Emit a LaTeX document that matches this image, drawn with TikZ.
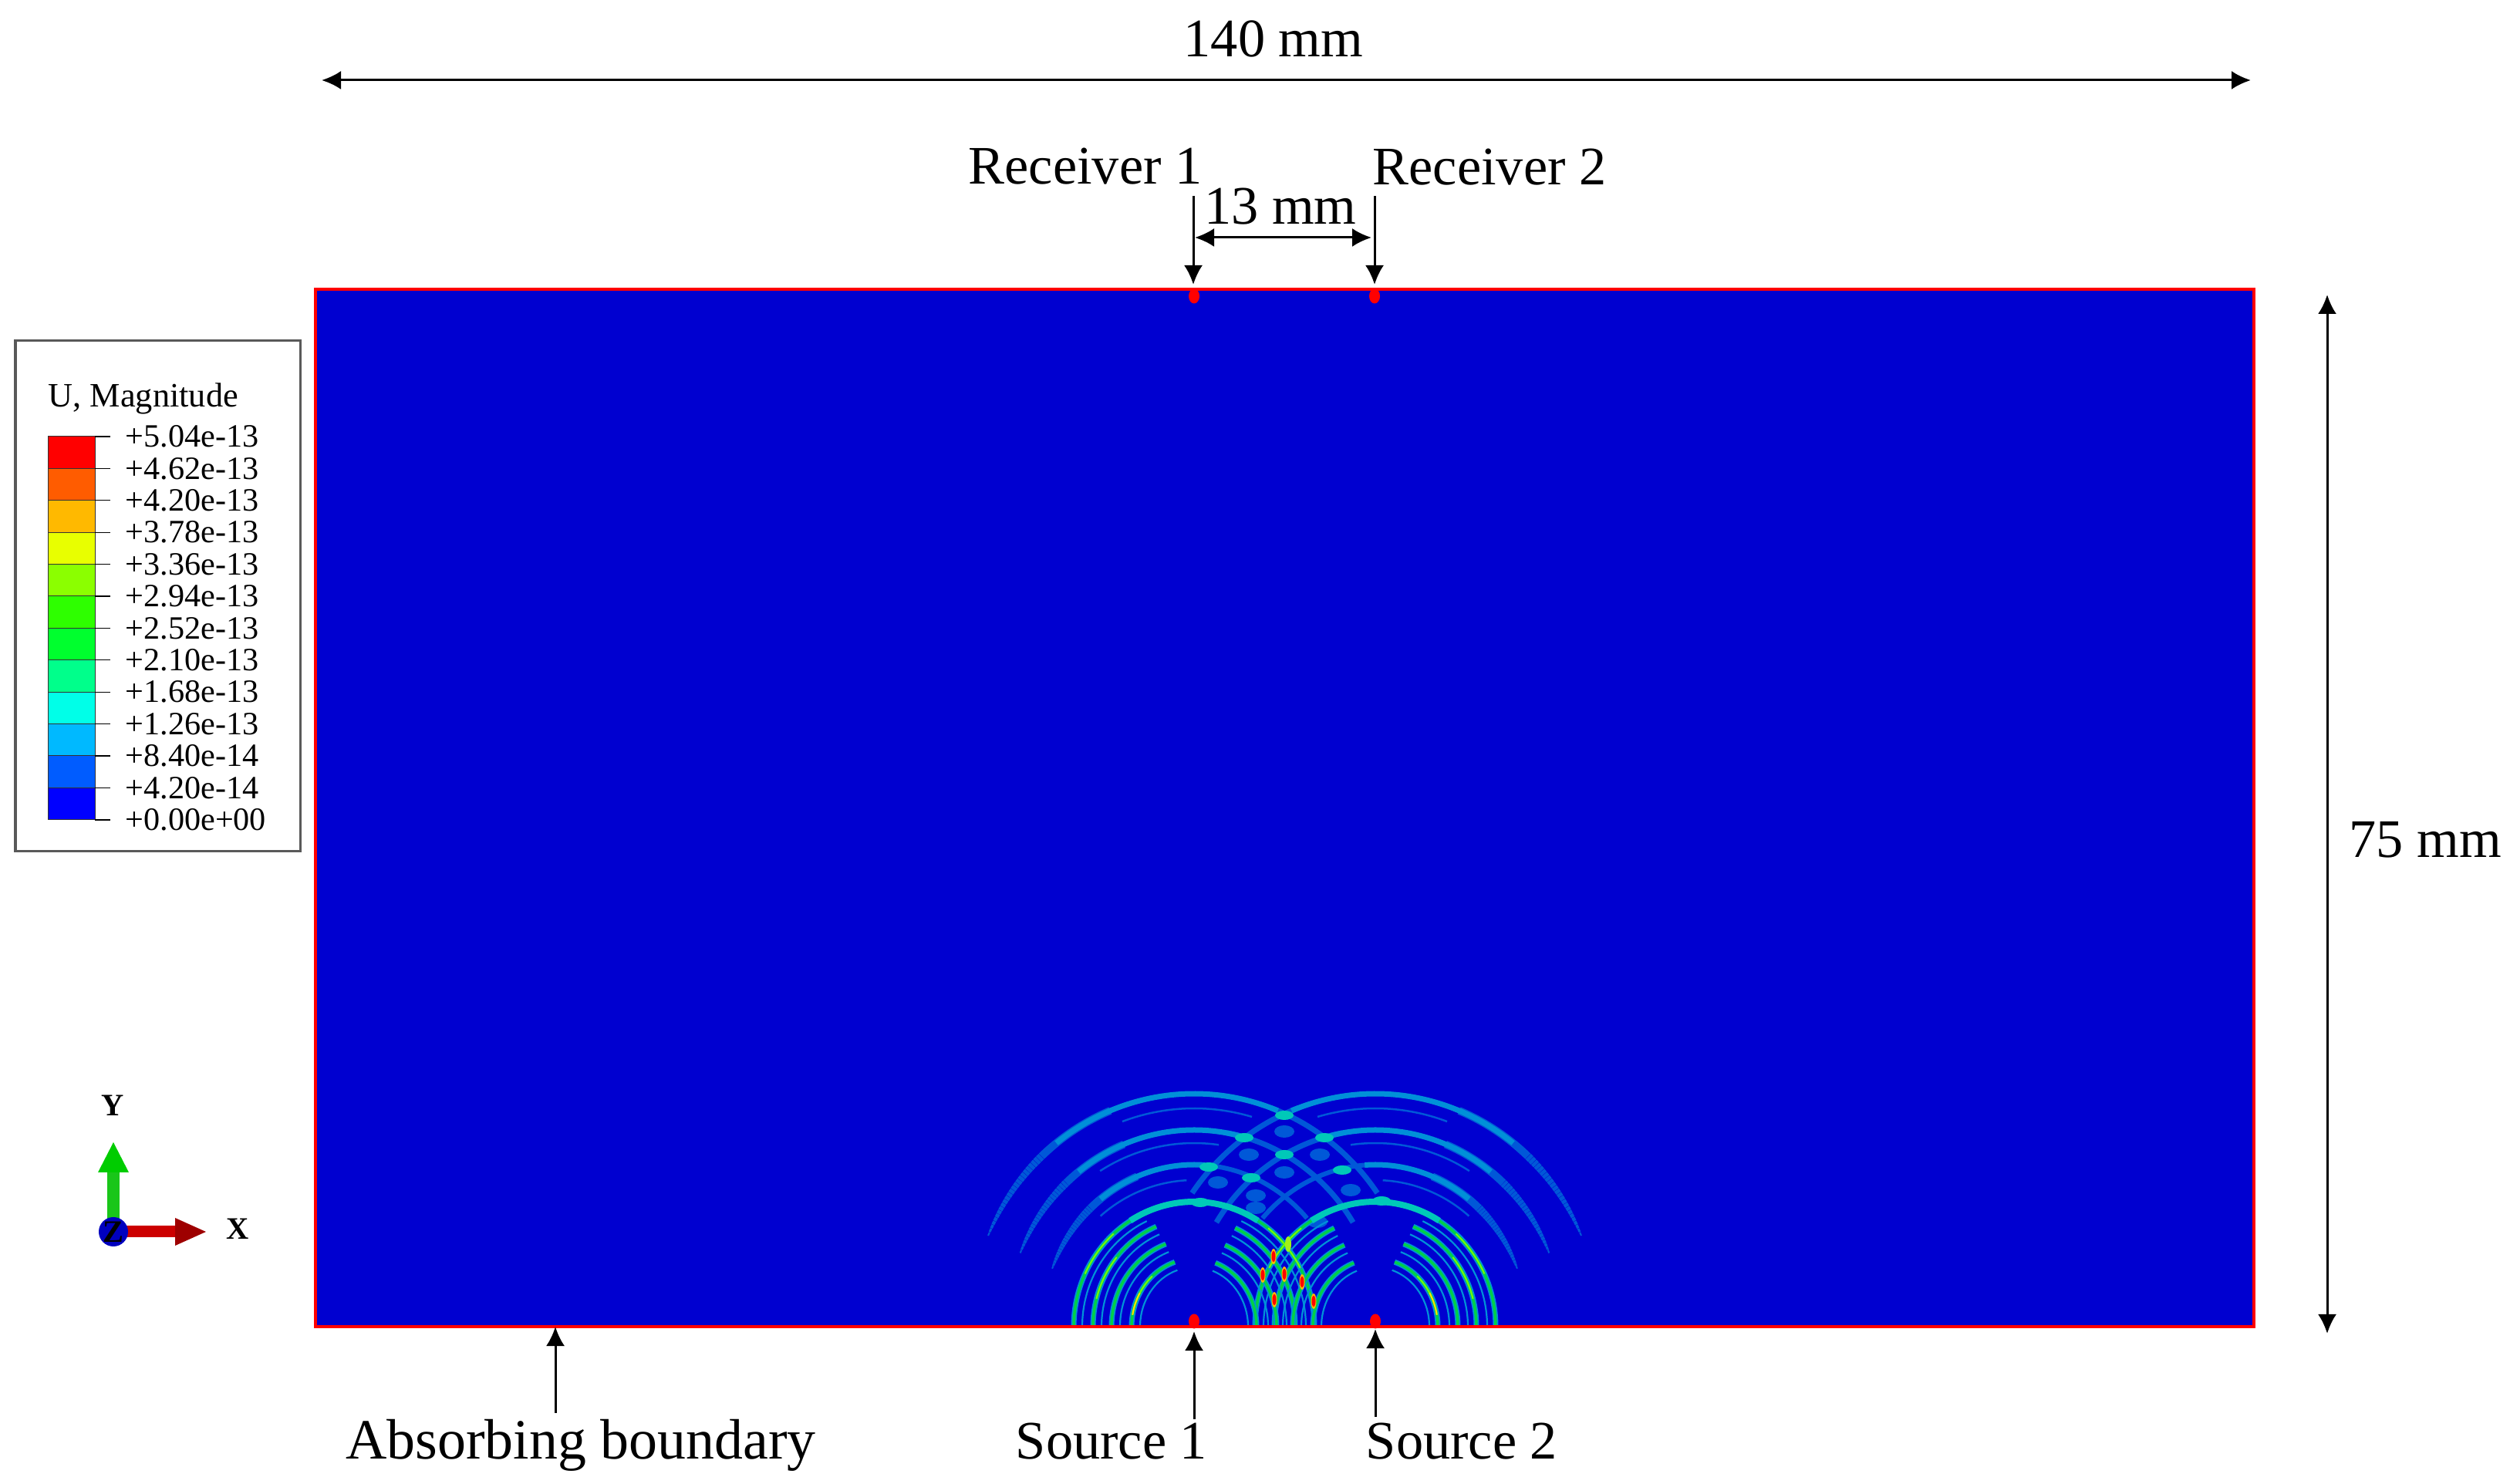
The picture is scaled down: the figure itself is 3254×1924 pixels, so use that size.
\documentclass[tikz,border=0pt]{standalone}
\usepackage{fontspec}
\setmainfont{Liberation Serif}
\usetikzlibrary{arrows.meta,shapes.geometric}

\definecolor{meshblue}{HTML}{0000D0}
\definecolor{waveDim}{HTML}{0058D8}
\definecolor{waveMid}{HTML}{0090D8}
\definecolor{waveCyan}{HTML}{00C8B8}
\definecolor{waveGreen}{HTML}{00D048}
\definecolor{bandA}{HTML}{FF0000}
\definecolor{bandB}{HTML}{FF5C00}
\definecolor{bandC}{HTML}{FFB900}
\definecolor{bandD}{HTML}{E8FF00}
\definecolor{bandE}{HTML}{8BFF00}
\definecolor{bandF}{HTML}{2EFF00}
\definecolor{bandG}{HTML}{00FF2E}
\definecolor{bandH}{HTML}{00FF8B}
\definecolor{bandI}{HTML}{00FFE8}
\definecolor{bandJ}{HTML}{00B9FF}
\definecolor{bandK}{HTML}{005CFF}
\definecolor{bandL}{HTML}{0000FF}

\tikzset{
  dimlabel/.style={font=\fontsize{20}{24}\selectfont, inner sep=0pt},
  legendlabel/.style={font=\fontsize{12}{14}\selectfont, inner sep=0pt, anchor=west},
  triadlabel/.style={font=\fontsize{11.5}{14}\selectfont\bfseries, inner sep=0pt},
  dimarrow/.style={line width=0.03cm, {Latex[length=0.25cm,width=0.24cm]}-{Latex[length=0.25cm,width=0.24cm]}},
  pointer/.style={line width=0.03cm, -{Latex[length=0.25cm,width=0.24cm]}},
  probe/.style={fill=red, ellipse, inner sep=0pt, minimum width=0.14cm, minimum height=0.19cm},
}

% one arc around each source, the second one mirrored
\newcommand{\bothsrc}[5][]{%
  \draw[#1] (srcA) ++(#4:#2 and #3) arc[start angle=#4, end angle=#5, x radius=#2, y radius=#3];
  \draw[#1] (srcB) ++(180-#4:#2 and #3) arc[start angle=180-#4, end angle=180-#5, x radius=#2, y radius=#3];
}
% same arc growing from nothing to width #5 (in cm)
\newcommand{\bandtail}[5]{%
  \foreach \k in {1,...,24}{
    \pgfmathsetmacro{\ta}{#3+(#4-#3)*(\k-1)/24}
    \pgfmathsetmacro{\tb}{#3+(#4-#3)*\k/24+0.1}
    \pgfmathsetmacro{\wd}{#5*sqrt(\k/24)}
    \bothsrc[waveDim, line width=\wd cm]{#1}{#2}{\ta}{\tb}
  }
}
\newcommand{\greenring}[4]{%
  \bothsrc[waveMid, line width=0.07cm]{#1}{#2}{#3}{#4}
  \bothsrc[waveGreen, line width=0.035cm]{#1}{#2}{#3}{#4}
  \pgfmathsetmacro{\rxin}{#1-11}
  \pgfmathsetmacro{\ryin}{#2-11}
  \bothsrc[waveMid, line width=0.022cm]{\rxin}{\ryin}{#3}{#4}
}

\begin{document}
\begin{tikzpicture}[x=0.01cm, y=0.01cm]
  \useasboundingbox (0,0) rectangle (3254,1924);

  % model
  \fill[meshblue] (409,204) rectangle (2922,1549);
  \coordinate (srcA) at (1548,204);
  \coordinate (srcB) at (1783,204);

  % outer wave fronts
  \bandtail{290}{302}{157}{133}{0.10}
  \bandtail{243}{255}{158}{133}{0.10}
  \bandtail{197}{210}{159}{133}{0.10}
  \bothsrc[waveDim, line width=0.07cm]{290}{302}{70}{35}
  \bothsrc[waveDim, line width=0.07cm]{243}{255}{80}{32}
  \bothsrc[waveDim, line width=0.06cm]{197}{210}{88}{42}
  \foreach \bx/\by in {1665/457,1619/427,1711/427,1665/404,1579/391,1628/374,1751/381,1628/358,1708/340}
    \fill[waveDim] (\bx,\by) ellipse (13 and 8);
  \bothsrc[waveDim, line width=0.10cm]{290}{302}{133}{112}
  \bothsrc[waveDim, line width=0.10cm]{243}{255}{133}{112}
  \bothsrc[waveDim, line width=0.10cm]{197}{210}{133}{112}
  \bothsrc[waveMid, line width=0.07cm]{290}{302}{128}{68}
  \bothsrc[waveMid, line width=0.07cm]{243}{255}{128}{76}
  \bothsrc[waveMid, line width=0.07cm]{197}{210}{128}{86}
  \bothsrc[waveDim, line width=0.025cm]{272}{283}{110}{74}
  \bothsrc[waveDim, line width=0.025cm]{230}{238}{122}{82}
  \bothsrc[waveDim, line width=0.025cm]{185}{190}{131}{93}

  % inner wave fronts
  \greenring{156}{162}{180}{115}
  \greenring{156}{162}{0}{65}
  \greenring{131}{140}{180}{112}
  \greenring{131}{140}{0}{66}
  \greenring{107}{114}{180}{110}
  \greenring{107}{114}{0}{68}
  \greenring{81}{88}{180}{108}
  \greenring{81}{88}{0}{70}
  \bothsrc[waveCyan, line width=0.08cm]{156}{162}{122}{58}
  \foreach \cx/\cy in {1665/478,1613/449,1717/449,1665/427,1567/411,1622/397,1740/407,1556/365,1791/367}
    \fill[waveCyan] (\cx,\cy) ellipse (12 and 6);

  % brighter parts of the fronts
  \bothsrc[bandE!80!waveGreen, line width=0.022cm]{156}{162}{155}{132}
  \bothsrc[bandE!80!waveGreen, line width=0.022cm]{131}{140}{165}{140}
  \bothsrc[bandD!60!bandC, line width=0.022cm]{81}{88}{170}{150}
  \bothsrc[bandE!80!waveGreen, line width=0.022cm]{81}{88}{150}{132}
  \bothsrc[bandE!80!waveGreen, line width=0.022cm]{156}{162}{52}{28}

  % hot spots
  \foreach \hx/\hy in {1651/295,1637/271,1665/272,1688/262,1652/239,1703/237}{
    \fill[bandC] (\hx,\hy) ellipse (3.5 and 10);
    \fill[bandA] (\hx,\hy) ellipse (2.5 and 7);
  }
  \fill[bandD!70!waveGreen] (1670,311) ellipse (4 and 10);

  % boundary
  \draw[red, line width=0.04cm] (409,204) rectangle (2922,1549);

  % sources and receivers
  \node[probe] (recA) at (1548,1540) {};
  \node[probe] (recB) at (1782,1540) {};
  \node[probe] (sourceA) at (1548,211) {};
  \node[probe] (sourceB) at (1783,211) {};

  % dimensions
  \coordinate (lenL) at (417,1820);
  \coordinate (lenR) at (2918,1820);
  \draw[dimarrow] (lenL) -- (lenR);
  \node[dimlabel] (lenText) at (1651,1874) {140 mm};
  \coordinate (highT) at (3017,1542);
  \coordinate (highB) at (3017,195);
  \draw[dimarrow] (highT) -- (highB);
  \node[dimlabel] (highText) at (3144,835) {75 mm};
  \coordinate (gapL) at (1549,1616);
  \coordinate (gapR) at (1778,1616);
  \draw[dimarrow] (gapL) -- (gapR);
  \node[dimlabel] (gapText) at (1660,1656) {13 mm};

  % pointers
  \coordinate (recAtail) at (1547,1670);
  \coordinate (recAtip) at (1547,1555);
  \coordinate (recBtail) at (1782,1670);
  \coordinate (recBtip) at (1782,1555);
  \draw[pointer] (recAtail) -- (recAtip);
  \draw[pointer] (recBtail) -- (recBtip);
  \node[dimlabel] (recAtext) at (1407,1708) {Receiver 1};
  \node[dimlabel] (recBtext) at (1931,1707) {Receiver 2};
  \coordinate (srcAtail) at (1548,84);
  \coordinate (srcAtip) at (1548,198);
  \coordinate (srcBtail) at (1783,87);
  \coordinate (srcBtip) at (1783,201);
  \coordinate (absTail) at (720,92);
  \coordinate (absTip) at (720,204);
  \draw[pointer] (srcAtail) -- (srcAtip);
  \draw[pointer] (srcBtail) -- (srcBtip);
  \draw[pointer] (absTail) -- (absTip);
  \node[dimlabel] (srcAtext) at (1441,55) {Source 1};
  \node[dimlabel] (srcBtext) at (1895,55) {Source 2};
  \node[dimlabel, font=\fontsize{21}{26}\selectfont] (absText) at (753,50) {Absorbing boundary};

  % legend
  \draw[black!65, line width=0.03cm] (20,820) rectangle (389,1482);
  \node[legendlabel, font=\fontsize{12.6}{15}\selectfont] (legendTitle) at (62,1407) {U, Magnitude};
  \foreach \col/\val [count=\i from 0] in {bandA/+5.04e-13,bandB/+4.62e-13,bandC/+4.20e-13,bandD/+3.78e-13,bandE/+3.36e-13,bandF/+2.94e-13,bandG/+2.52e-13,bandH/+2.10e-13,bandI/+1.68e-13,bandJ/+1.26e-13,bandK/+8.40e-14,bandL/+4.20e-14}{
    \fill[\col, draw=black!80, line width=0.01cm] (62,1358-41.4*\i) rectangle (123,1316.6-41.4*\i);
    \draw[line width=0.012cm] (123,1358-41.4*\i) -- (143,1358-41.4*\i);
    \node[legendlabel] (val\i) at (162,1358-41.4*\i) {\val};
  }
  \draw[line width=0.012cm] (123,861) -- (143,861);
  \node[legendlabel] (valEnd) at (162,861) {+0.00e+00};

  % triad
  \coordinate (triad) at (147,327);
  \fill[green!75!black!90!white] (139,327) rectangle (155,404);
  \fill[black!20!green] (127,404) -- (167,404) -- (147,443) -- cycle;
  \fill[red!80!black] (147,320) rectangle (228,335);
  \fill[red!62!black] (227,345) -- (267,327) -- (227,309) -- cycle;
  \fill[blue!75!black] (triad) circle (19);
  \node[triadlabel] (zLabel) at (triad) {Z};
  \node[triadlabel] (yLabel) at (146,491) {Y};
  \node[triadlabel] (xLabel) at (308,331) {X};
\end{tikzpicture}
\end{document}
